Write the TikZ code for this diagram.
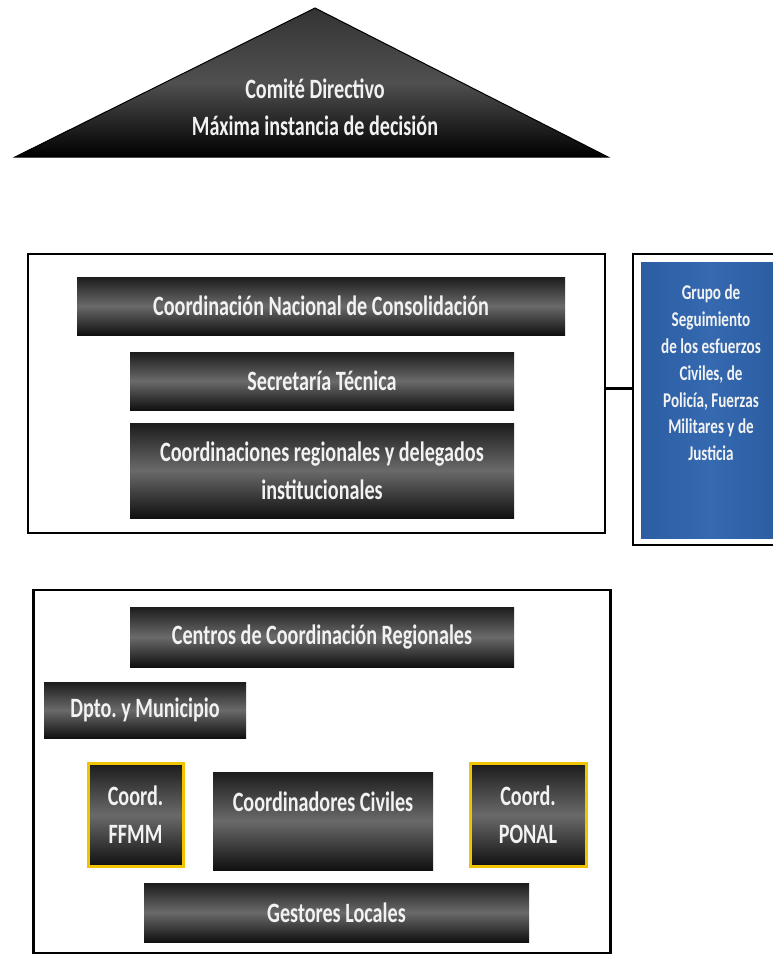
\documentclass[tikz,border=0pt]{standalone}
\usepackage{fontspec}
\setmainfont{Carlito}
\newfontfamily\tallfont{Carlito}[FakeStretch=0.72]
\frenchspacing
\definecolor{boxtop}{HTML}{1C1C1C}
\definecolor{boxmid}{HTML}{6A6A6A}
\definecolor{boxbot}{HTML}{101010}
\definecolor{bluedeep}{HTML}{2B5DA2}
\definecolor{bluelite}{HTML}{3569B0}
\definecolor{ybord}{HTML}{F2C400}
\definecolor{txt}{HTML}{F2F2F2}
\tikzset{
  darkbox/.style={rectangle, inner sep=0pt, outer sep=0pt, top color=boxtop, bottom color=boxbot, middle color=boxmid, text=txt, font=\tallfont\bfseries\fontsize{28}{38}\selectfont, align=center},
  ybox/.style={darkbox, draw=ybord, line width=3pt},
  framebox/.style={rectangle, draw=black, line width=2.5pt, inner sep=0pt, outer sep=0pt},
  lbl/.style={text=txt, font=\tallfont\bfseries\fontsize{28}{38}\selectfont, align=center, inner sep=0pt},
}
\begin{document}
\begin{tikzpicture}[x=1pt, y=-1pt]
\useasboundingbox (0,0) rectangle (773,955);
\fill[white] (0,0) rectangle (773,955);
% triangle
\shade[top color=boxtop!70!boxmid, bottom color=black, middle color=boxmid!75!black, draw=black, line width=1pt] (315,8) coordinate (apex) -- (608,157) coordinate (br) -- (15,157) coordinate (bl) -- cycle;
\node[lbl] (cd) at (315,89) {Comité Directivo};
\node[lbl] (mi) at (315,126) {Máxima instancia de decisión};
% middle frame
\node[framebox, minimum width=577pt, minimum height=279pt] (mid) at (316.5,393.5) {};
\node[darkbox, minimum width=488pt, minimum height=58pt] (cnc) at (321,306) {Coordinación Nacional de Consolidación};
\node[darkbox, minimum width=384pt, minimum height=58pt] (st) at (322,381) {Secretaría Técnica};
\node[darkbox, minimum width=384pt, minimum height=95pt] (cr) at (322,470.5) {Coordinaciones regionales y delegados\\institucionales};
% blue group
\node[framebox, minimum width=144pt, minimum height=291pt] (bframe) at (705,399.5) {};
\node[rectangle, inner sep=0pt, outer sep=0pt, left color=bluedeep, right color=bluedeep, middle color=bluelite, minimum width=136pt, minimum height=276pt] (blue) at (709,400) {};
\node[text=txt, font=\tallfont\bfseries\fontsize{21}{26.8}\selectfont, align=center, inner sep=0pt] (bt) at (711,373) {Grupo de\\Seguimiento\\de los esfuerzos\\Civiles, de\\Policía, Fuerzas\\Militares y de\\Justicia};
\draw[line width=3pt] ([yshift=5pt]mid.east) -- ([yshift=5pt]mid.east -| bframe.west);
% bottom frame
\node[framebox, minimum width=577pt, minimum height=363pt] (bot) at (322,771.5) {};
\node[darkbox, minimum width=384pt, minimum height=60pt] (ccr) at (322,637) {Centros de Coordinación Regionales};
\node[darkbox, minimum width=202pt, minimum height=56pt] (dm) at (145,710) {Dpto. y Municipio};
\node[ybox, minimum width=95pt, minimum height=103pt] (ffmm) at (135.5,815) {Coord.\\FFMM};
\node[darkbox, minimum width=220pt, minimum height=98pt] (civ) at (323,821) {};
\node[lbl] (civt) at (323,802) {Coordinadores Civiles};
\node[ybox, minimum width=116pt, minimum height=103pt] (ponal) at (528,815) {Coord.\\PONAL};
\node[darkbox, minimum width=385pt, minimum height=59pt] (gl) at (336.5,912.5) {Gestores Locales};
\end{tikzpicture}
\end{document}
